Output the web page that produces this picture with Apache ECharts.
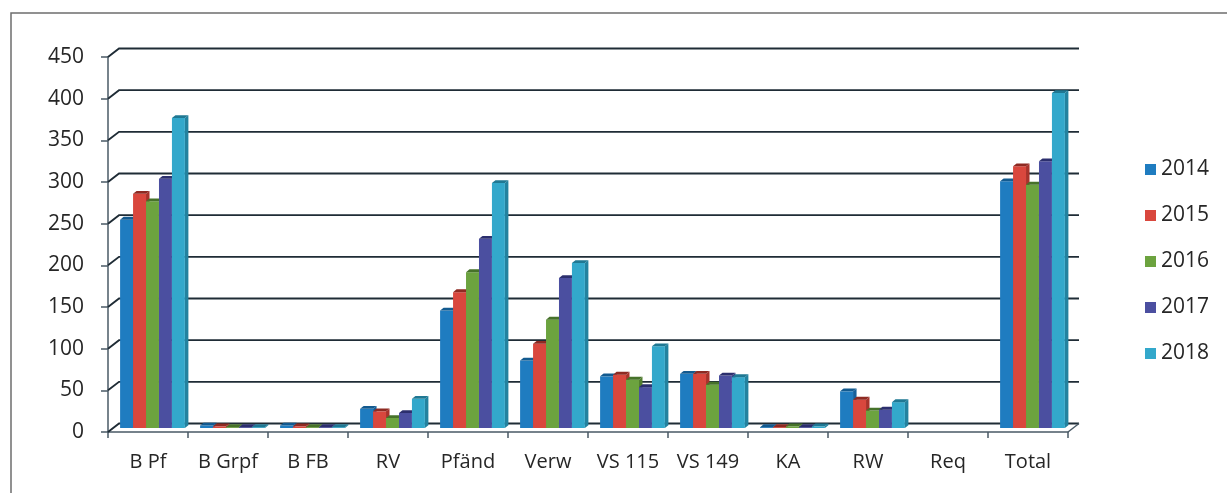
<!DOCTYPE html>
<html>
<head>
<meta charset="utf-8">
<script src="https://cdn.jsdelivr.net/npm/echarts@6/dist/echarts.min.js"></script>
<style>
  html, body { margin: 0; padding: 0; background: #ffffff; }
  #chart { width: 1227px; height: 493px; }
</style>
</head>
<body>
<div id="chart"></div>
<script>
// Categories along the horizontal axis
const categories = ['B Pf', 'B Grpf', 'B FB', 'RV', 'Pfänd', 'Verw', 'VS 115', 'VS 149', 'KA', 'RW', 'Req', 'Total'];

// Yearly values per category
const years = ['2014', '2015', '2016', '2017', '2018'];
const v2014 = [250, 3, 3, 23, 141, 81, 62, 65, 1, 44, 0, 296];
const v2015 = [281, 2, 2, 20, 163, 101, 64, 65, 1, 34, 0, 314];
const v2016 = [272, 1, 1, 12, 187, 130, 58, 52, 2, 21, 0, 292];
const v2017 = [299, 1, 1, 18, 227, 180, 49, 63, 1, 22, 0, 320];
const v2018 = [372, 1, 1, 35, 294, 198, 98, 61, 2, 31, 0, 402];
const seriesValues = [v2014, v2015, v2016, v2017, v2018];

// Value axis ticks
const yTicks = [0, 50, 100, 150, 200, 250, 300, 350, 400, 450];

// Colours per year: front face, top face, side face
const colors = ['#1f7cc0', '#d9473d', '#6ca33f', '#4b4fa0', '#33a8cb'];
const topColors = ['#135a8f', '#8e2a22', '#46722a', '#2c2f6e', '#1f7893'];
const sideColors = ['#16609a', '#a8332b', '#527f30', '#363980', '#23829f'];

// Pseudo-3D depth of the back wall and of the bar plane
const WALL_DX = 11, WALL_DY = -8.5;
const BAR_DX = 4.5, BAR_DY = -4;
const BAR_DEPTH = 3.5;
const GROUP_SHARE = 0.81;

const chart = echarts.init(document.getElementById('chart'));

function wallRender(params, api) {
  const cs = params.coordSys;
  const y = api.coord([0, api.value(1)])[1];
  const x0 = cs.x, x1 = cs.x + cs.width;
  const children = [{
    type: 'polyline',
    shape: { points: [[x0, y], [x0 + WALL_DX, y + WALL_DY], [x1 + WALL_DX, y + WALL_DY]] },
    style: { stroke: '#1f2c36', lineWidth: 1.9, fill: null }
  }];
  if (api.value(1) === 0) {
    children.push({
      type: 'line',
      shape: { x1: x1, y1: y, x2: x1 + WALL_DX, y2: y + WALL_DY },
      style: { stroke: '#4a5a66', lineWidth: 1.5 }
    });
  }
  return { type: 'group', children: children };
}

function makeBarRender(k) {
  return function (params, api) {
    const val = api.value(1);
    if (!val) return null; // empty cells draw nothing
    const idx = api.value(0);
    const top = api.coord([idx, val]);
    const base = api.coord([idx, 0]);
    const band = api.size([1, 0])[0];
    const groupW = band * GROUP_SHARE;
    const bw = groupW / years.length;
    const x = base[0] - groupW / 2 + k * bw + BAR_DX;
    const yT = top[1] + BAR_DY;
    const yB = base[1] + BAR_DY;
    const d = BAR_DEPTH, dy = BAR_DEPTH * 0.8;
    return {
      type: 'group',
      children: [
        { type: 'polygon', shape: { points: [[x + bw, yT], [x + bw + d, yT - dy], [x + bw + d, yB - dy], [x + bw, yB]] },
          style: { fill: sideColors[k] } },
        { type: 'rect', shape: { x: x, y: yT, width: bw, height: yB - yT },
          style: { fill: colors[k] } },
        { type: 'polygon', shape: { points: [[x, yT], [x + bw, yT], [x + bw + d, yT - dy], [x + d, yT - dy]] },
          style: { fill: topColors[k] } }
      ]
    };
  };
}

const series = [{
  type: 'custom',
  name: 'wall',
  silent: true,
  z: 1,
  renderItem: wallRender,
  data: yTicks.map(t => [0, t])
}];

years.forEach((yr, k) => {
  series.push({
    type: 'custom',
    name: yr,
    z: 5 + k,
    itemStyle: { color: colors[k] },
    renderItem: makeBarRender(k),
    data: seriesValues[k].map((v, i) => [i, v])
  });
});

const textColor = '#262626';
const fontFamily = '"Open Sans", "Liberation Sans", sans-serif';

chart.setOption({
  animation: false,
  backgroundColor: '#ffffff',
  graphic: [{
    type: 'rect',
    shape: { x: 11, y: 13, width: 1260, height: 520 },
    style: { fill: null, stroke: '#6e6e6e', lineWidth: 1.5 },
    silent: true,
    z: 0
  }],
  grid: { left: 108, right: 159, top: 57, bottom: 61 },
  legend: {
    data: years,
    orient: 'vertical',
    left: 1140,
    top: 154,
    icon: 'rect',
    itemWidth: 11,
    itemHeight: 11,
    itemGap: 25,
    textStyle: { fontSize: 21, color: textColor, fontFamily: fontFamily }
  },
  xAxis: {
    type: 'category',
    data: categories,
    boundaryGap: true,
    axisLine: { show: true, lineStyle: { color: '#4a5a66', width: 1.5 } },
    axisTick: { show: true, interval: 0, length: 6, lineStyle: { color: '#4a5a66', width: 1.5 } },
    axisLabel: { interval: 0, margin: 20, fontSize: 20, color: textColor, fontFamily: fontFamily },
    splitLine: { show: false }
  },
  yAxis: {
    type: 'value',
    min: 0,
    max: 450,
    interval: 50,
    axisLine: { show: true, lineStyle: { color: '#4a5a66', width: 1.5 } },
    axisTick: { show: true, length: 7, lineStyle: { color: '#4a5a66', width: 1.5 } },
    axisLabel: { margin: 24, fontSize: 21, color: textColor, fontFamily: fontFamily },
    splitLine: { show: false }
  },
  series: series
});
</script>
</body>
</html>
